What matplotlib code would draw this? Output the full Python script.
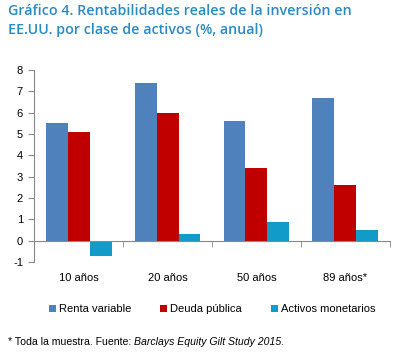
import matplotlib.pyplot as plt
from matplotlib.patches import Patch
import numpy as np

plt.rcParams['font.family'] = ['Liberation Sans', 'DejaVu Sans']
plt.rcParams['axes.unicode_minus'] = False

# Data
categories = ['10 años', '20 años', '50 años', '89 años*']
renta_variable = [5.5, 7.4, 5.6, 6.7]
deuda_publica = [5.1, 6.0, 3.4, 2.6]
activos_monetarios = [-0.7, 0.3, 0.9, 0.5]
series_names = ['Renta variable', 'Deuda pública', 'Activos monetarios']
series_colors = ['#4f81bd', '#c00000', '#119bc9']

fig = plt.figure(figsize=(3.97, 3.56), dpi=100)
ax = fig.add_axes([0.086, 0.264, 0.896, 0.539])

x = np.arange(len(categories))
w = 0.247
for i, (vals, c) in enumerate(zip([renta_variable, deuda_publica, activos_monetarios], series_colors)):
    ax.bar(x + (i - 1) * w, vals, w, color=c, linewidth=0)

ax.set_xlim(-0.5, len(categories) - 0.5)
ax.set_ylim(-1, 8)
ax.set_yticks(range(-1, 9))
ax.tick_params(axis='y', direction='out', length=4, color='#888888', labelsize=8, pad=4)

ax.spines['top'].set_visible(False)
ax.spines['right'].set_visible(False)
ax.spines['left'].set_color('#888888')
ax.spines['bottom'].set_color('#888888')
ax.spines['bottom'].set_position(('data', 0))

ax.set_xticks(x)
ax.set_xticklabels(categories)
ax.set_xticks(np.arange(-0.5, len(categories)), minor=True)
ax.tick_params(axis='x', which='major', length=0, labelsize=8, pad=23)
ax.tick_params(axis='x', which='minor', length=4, direction='out', color='#888888')

# Title
title_color = '#2a8ac3'
fig.text(0.02, 0.99, 'Gráfico 4. Rentabilidades reales de la inversión en\nEE.UU. por clase de activos (%, anual)',
         ha='left', va='top', fontsize=10.3, color=title_color, fontweight='semibold',
         family='Open Sans', linespacing=1.45)

# Legend
handles = [Patch(facecolor=c, edgecolor='none') for c in series_colors]
fig.legend(handles, series_names, loc='center', bbox_to_anchor=(0.535, 0.132), ncol=3,
           frameon=False, fontsize=8, handlelength=0.6, handleheight=0.6,
           handletextpad=0.3, columnspacing=2.6)

# Footnote
t1 = fig.text(0.02, 0.039, '* Toda la muestra. Fuente: ', ha='left', va='center', fontsize=7.6)
fig.canvas.draw()
bb = t1.get_window_extent()
x1 = bb.x1 / fig.bbox.width
fig.text(x1, 0.039, 'Barclays Equity Gilt Study 2015.', ha='left', va='center', fontsize=7.6,
         style='italic')

plt.savefig('out.png', dpi=100)
